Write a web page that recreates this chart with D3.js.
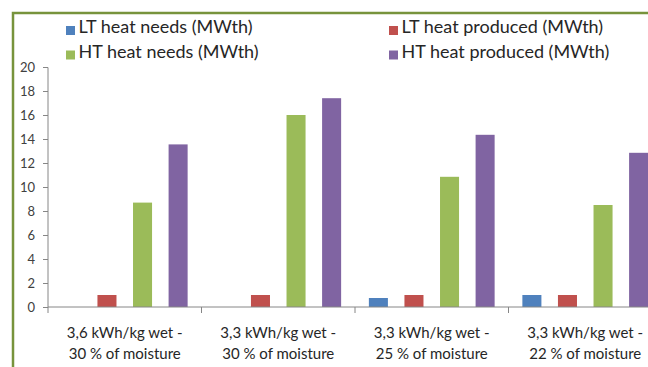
<!DOCTYPE html>
<html><head><meta charset="utf-8">
<script src="https://cdn.jsdelivr.net/npm/d3@7"></script>
<style>
html,body{margin:0;padding:0;background:#fff;overflow:hidden;}
svg{display:block;}
</style></head>
<body><svg id="chart" width="648" height="367"></svg>
<script>
const categories = [
  ["3,6 kWh/kg wet -", "30 % of moisture"],
  ["3,3 kWh/kg wet -", "30 % of moisture"],
  ["3,3 kWh/kg wet -", "25 % of moisture"],
  ["3,3 kWh/kg wet -", "22 % of moisture"]
];
const seriesNames = ["LT heat needs (MWth)", "LT heat produced (MWth)", "HT heat needs (MWth)", "HT heat produced (MWth)"];
const seriesColors = ["#4F81BD", "#C0504D", "#9BBB59", "#8064A2"];
const ltNeeds    = [0, 0, 0.75, 1.0];
const ltProduced = [1.0, 1.0, 1.0, 1.0];
const htNeeds    = [8.7, 16.0, 10.85, 8.5];
const htProduced = [13.55, 17.4, 14.35, 12.85];
const yTicks = [0, 2, 4, 6, 8, 10, 12, 14, 16, 18, 20];

const seriesValues = [ltNeeds, ltProduced, htNeeds, htProduced];
const svg = d3.select("#chart");
const font = "Lato, 'Open Sans', sans-serif";

// frame
svg.append("path").attr("d", "M13,367 L13,13 L648,13")
  .attr("fill", "none").attr("stroke", "#77933C").attr("stroke-width", 2.5);

const x0 = 48, yBottom = 307, yTop = 67, bandW = 153.5;
const x = d3.scaleBand().domain(d3.range(categories.length))
  .range([x0, x0 + bandW * categories.length]).paddingInner(0).paddingOuter(0);
const xs = d3.scaleBand().domain(d3.range(seriesNames.length))
  .range([0, x.bandwidth()]).paddingInner(0.465).paddingOuter(0.39);
const y = d3.scaleLinear().domain([0, 20]).range([yBottom, yTop]);

// bars
seriesNames.forEach((name, si) => {
  svg.append("g").selectAll("rect").data(seriesValues[si]).join("rect")
    .attr("x", (d, i) => x(i) + xs(si))
    .attr("width", xs.bandwidth())
    .attr("y", d => y(d))
    .attr("height", d => y(0) - y(d))
    .attr("fill", seriesColors[si]);
});

// y axis
const yAxis = d3.axisLeft(y).tickValues(yTicks).tickSize(5).tickPadding(8);
const gy = svg.append("g").attr("transform", `translate(${x0},0)`).call(yAxis);
gy.select(".domain").attr("stroke", "#868686").attr("d", `M-5,${yTop+0.5}H0V${yBottom}`);
gy.selectAll(".tick line").attr("stroke", "#868686");
gy.selectAll(".tick text").attr("font-family", font).attr("font-size", 13).attr("fill", "#404040");

// x axis
const xAxis = d3.axisBottom(x).tickSize(0).tickFormat("");
const gx = svg.append("g").attr("transform", `translate(0,${yBottom})`).call(xAxis);
gx.select(".domain").attr("stroke", "#868686").attr("d", `M${x0},0H648`);
gx.selectAll(".tick").remove();
const bounds = d3.range(categories.length + 1).map(i => x0 + bandW * i);
gx.selectAll("line.sep").data(bounds).join("line").attr("class", "sep")
  .attr("x1", d => d).attr("x2", d => d).attr("y1", 0).attr("y2", 6)
  .attr("stroke", "#868686");

// category labels
categories.forEach((lines, i) => {
  const t = svg.append("text").attr("text-anchor", "middle")
    .attr("font-family", font).attr("font-size", 15).attr("fill", "#262626");
  lines.forEach((ln, k) => {
    t.append("tspan").attr("x", x(i) + x.bandwidth() / 2).attr("y", 338 + k * 21).text(ln);
  });
});

// legend
const legPos = [[66, 30.5], [389, 30.5], [66, 55], [389, 55]];
seriesNames.forEach((name, si) => {
  const [lx, ly] = legPos[si];
  svg.append("rect").attr("x", lx).attr("y", ly - 4.5).attr("width", 9).attr("height", 9)
    .attr("fill", seriesColors[si]);
  svg.append("text").attr("x", lx + 12.5).attr("y", ly + 2.5)
    .attr("font-family", font).attr("font-size", 18).attr("fill", "#262626").text(name);
});
</script>
</body></html>
